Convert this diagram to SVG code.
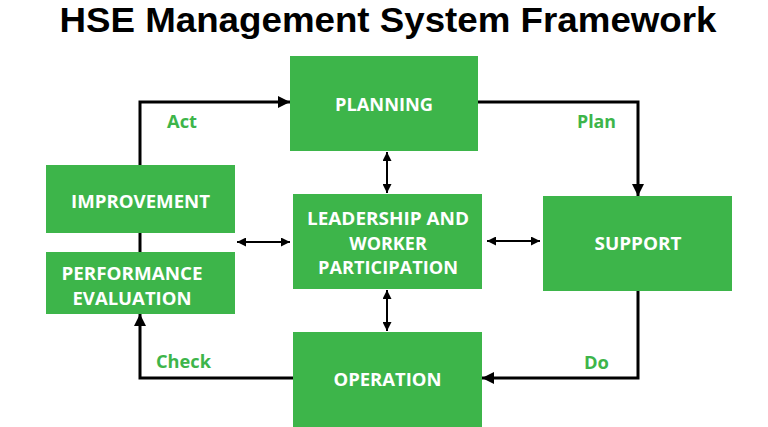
<svg xmlns="http://www.w3.org/2000/svg" width="768" height="427" viewBox="0 0 768 427">
<defs>
<style>
.box{fill:#3db54a;}
.t{font-family:"Open Sans","Liberation Sans",sans-serif;font-weight:700;font-size:18px;fill:#ffffff;text-anchor:middle;}
.lbl{font-family:"Open Sans","Liberation Sans",sans-serif;font-weight:700;font-size:18px;fill:#3db54a;}
.title{font-family:"Liberation Sans","Open Sans",sans-serif;font-weight:700;font-size:35px;fill:#000000;text-anchor:middle;}
.flow{fill:none;stroke:#000;stroke-width:3;}
.dbl{fill:none;stroke:#000;stroke-width:2;}
</style>
<marker id="ah" viewBox="0 0 10 10" refX="10" refY="5" markerWidth="4" markerHeight="4" orient="auto"><path d="M0,0 L10,5 L0,10 z" fill="#000"/></marker>
<marker id="ah2" viewBox="0 0 10 10" refX="10" refY="5" markerWidth="4.5" markerHeight="4.5" orient="auto-start-reverse"><path d="M0,0 L10,5 L0,10 z" fill="#000"/></marker>
</defs>
<rect width="768" height="427" fill="#ffffff"/>
<text class="title" x="388" y="32" textLength="657" lengthAdjust="spacingAndGlyphs">HSE Management System Framework</text>
<g id="connectors">
<path class="flow" d="M140,165 V102 H290" marker-end="url(#ah)"/>
<path class="flow" d="M140,233 V252"/>
<path class="flow" d="M478,102 H638 V196" marker-end="url(#ah)"/>
<path class="flow" d="M638,291 V378 H482" marker-end="url(#ah)"/>
<path class="flow" d="M293,378 H140 V314" marker-end="url(#ah)"/>
<path class="dbl" d="M387,152 V193" marker-start="url(#ah2)" marker-end="url(#ah2)"/>
<path class="dbl" d="M387,290 V331" marker-start="url(#ah2)" marker-end="url(#ah2)"/>
<path class="dbl" d="M237,242 H290" marker-start="url(#ah2)" marker-end="url(#ah2)"/>
<path class="dbl" d="M487,241 H540" marker-start="url(#ah2)" marker-end="url(#ah2)"/>
<text class="lbl" x="167" y="128" textLength="30" lengthAdjust="spacingAndGlyphs">Act</text>
<text class="lbl" x="577" y="128" textLength="39" lengthAdjust="spacingAndGlyphs">Plan</text>
<text class="lbl" x="156" y="368" textLength="55" lengthAdjust="spacingAndGlyphs">Check</text>
<text class="lbl" x="584" y="369" textLength="25" lengthAdjust="spacingAndGlyphs">Do</text>
</g>
<g id="planning">
<rect class="box" x="290" y="56" width="188" height="95"/>
<text class="t" x="384" y="111" textLength="98" lengthAdjust="spacingAndGlyphs">PLANNING</text>
</g>
<g id="leadership">
<rect class="box" x="293" y="194" width="189" height="95"/>
<text class="t" x="388" y="225" textLength="162" lengthAdjust="spacingAndGlyphs">LEADERSHIP AND</text>
<text class="t" x="388" y="250">WORKER</text>
<text class="t" x="388" y="274" textLength="140" lengthAdjust="spacingAndGlyphs">PARTICIPATION</text>
</g>
<g id="support">
<rect class="box" x="543" y="196" width="189" height="95"/>
<text class="t" x="638" y="250" textLength="87" lengthAdjust="spacingAndGlyphs">SUPPORT</text>
</g>
<g id="operation">
<rect class="box" x="293" y="332" width="189" height="95"/>
<text class="t" x="387.5" y="386" textLength="108" lengthAdjust="spacingAndGlyphs">OPERATION</text>
</g>
<g id="improvement">
<rect class="box" x="46" y="165" width="189" height="68"/>
<text class="t" x="140.5" y="208" textLength="139" lengthAdjust="spacingAndGlyphs">IMPROVEMENT</text>
</g>
<g id="performance">
<rect class="box" x="46" y="252" width="189" height="62"/>
<text class="t" x="132" y="280" textLength="141" lengthAdjust="spacingAndGlyphs">PERFORMANCE</text>
<text class="t" x="132" y="305" textLength="119" lengthAdjust="spacingAndGlyphs">EVALUATION</text>
</g>
</svg>
